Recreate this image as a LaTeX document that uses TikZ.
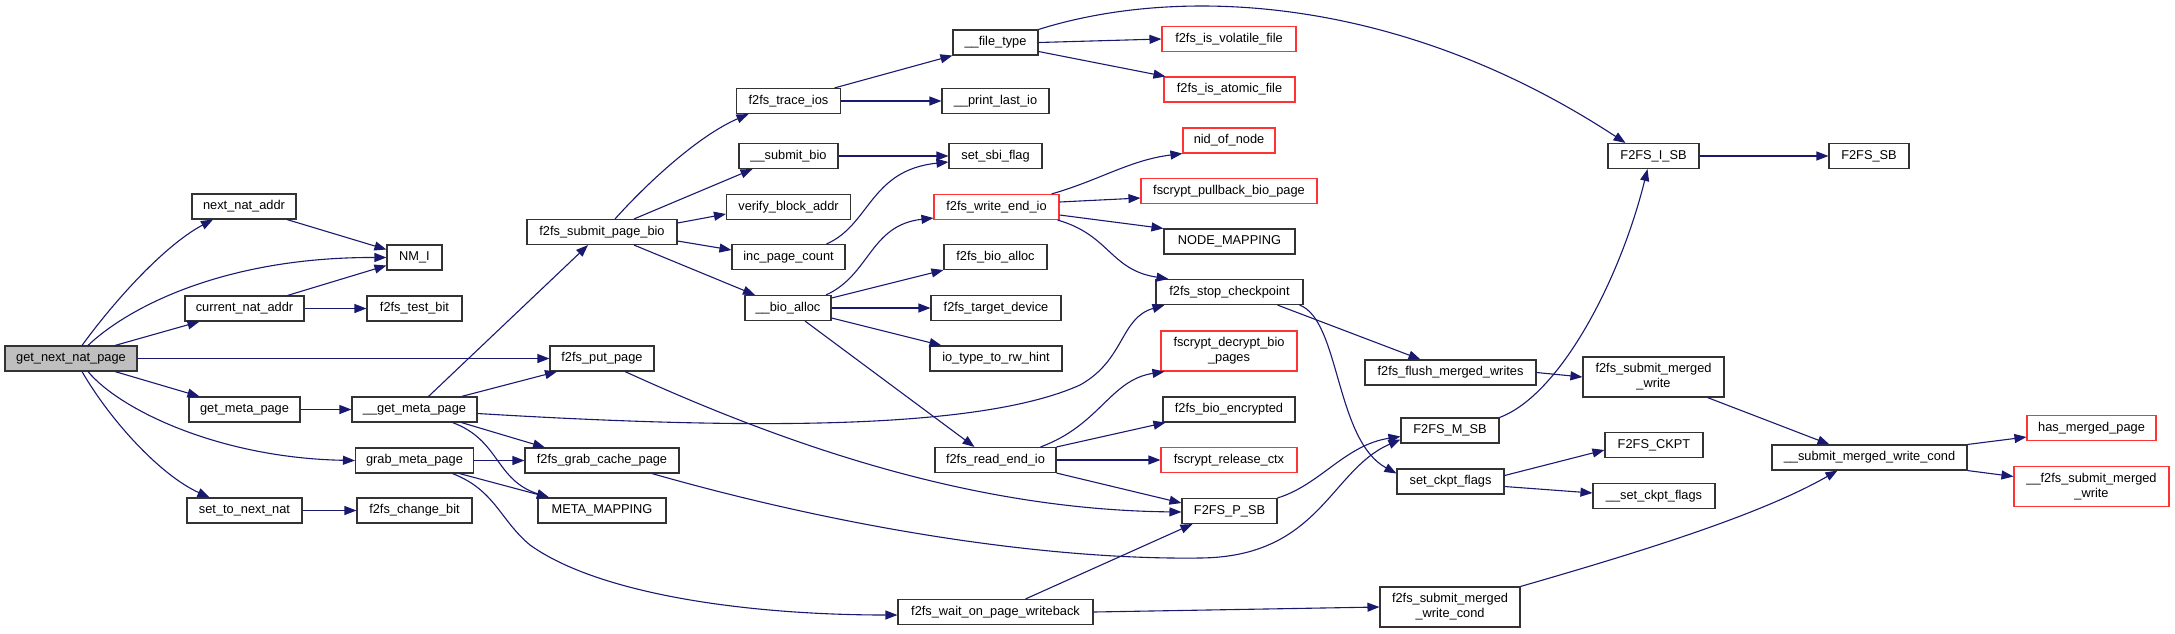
\documentclass[tikz,border=0pt]{standalone}
\usepackage{fontspec}
\setmainfont{Liberation Sans}
\usetikzlibrary{arrows.meta}
\definecolor{edgec}{HTML}{191970}
\definecolor{rootfill}{HTML}{BFBFBF}
\definecolor{nodeborder}{HTML}{333333}
\definecolor{redborder}{HTML}{FF3333}
\newcommand{\nfont}{\fontsize{12.8}{15}\selectfont}
\tikzset{
  fn/.style={draw=nodeborder, line width=1.1pt, rectangle, inner sep=0pt,
    minimum height=25pt, text height=9.4pt, text depth=2.8pt, font=\nfont, fill=white},
  fnr/.style={fn, draw=redborder},
  fntwo/.style={draw=nodeborder, line width=1.1pt, rectangle, inner sep=0pt,
    minimum height=40pt, align=center, font=\nfont, fill=white},
  fntwor/.style={fntwo, draw=redborder},
  e/.style={draw=edgec, line width=1.1pt, -{Triangle[length=12pt,width=9pt]}}
}
\begin{document}
\begin{tikzpicture}[x=1pt,y=-1pt]
\useasboundingbox (0,0) rectangle (2175,633);
\fill[white] (0,0) rectangle (2175,633);

% rank 0
\node[fn, fill=rootfill, minimum width=132pt] (gnnp) at (71,358.5) {get\_next\_nat\_page};
% rank 1
\node[fn, minimum width=104pt] (nna) at (244,206.5) {next\_nat\_addr};
\node[fn, minimum width=119pt] (cna) at (244.5,308.5) {current\_nat\_addr};
\node[fn, minimum width=111pt] (gmp) at (244.5,409.5) {get\_meta\_page};
\node[fn, minimum width=115pt] (stnn) at (244.5,510.5) {set\_to\_next\_nat};
% rank 2
\node[fn, minimum width=55pt] (nmi) at (414.5,257.5) {NM\_I};
\node[fn, minimum width=95pt] (ftb) at (414.5,308.5) {f2fs\_test\_bit};
\node[fn, minimum width=125pt] (ugmp) at (414.5,409.5) {\_\_get\_meta\_page};
\node[fn, minimum width=118pt] (grmp) at (414.5,460.5) {grab\_meta\_page};
\node[fn, minimum width=115pt] (fcb) at (414.5,510.5) {f2fs\_change\_bit};
% rank 3
\node[fn, minimum width=150pt] (fspb) at (602,232) {f2fs\_submit\_page\_bio};
\node[fn, minimum width=104pt] (fpp) at (602,358.5) {f2fs\_put\_page};
\node[fn, minimum width=154pt] (fgcp) at (602,460.5) {f2fs\_grab\_cache\_page};
\node[fn, minimum width=128pt] (mm) at (602,510.5) {META\_MAPPING};
% rank 4
\node[fn, minimum width=104pt] (fti) at (788.5,101) {f2fs\_trace\_ios};
\node[fn, minimum width=99pt] (usb) at (788.5,156) {\_\_submit\_bio};
\node[fn, minimum width=124pt] (vba) at (788.5,207) {verify\_block\_addr};
\node[fn, minimum width=113pt] (ipc) at (788.5,257) {inc\_page\_count};
\node[fn, minimum width=86pt] (uba) at (788,308) {\_\_bio\_alloc};
% rank 5
\node[fn, minimum width=85pt] (uft) at (995.5,42.5) {\_\_file\_type};
\node[fn, minimum width=107pt] (upli) at (995.5,101) {\_\_print\_last\_io};
\node[fn, minimum width=93pt] (ssf) at (995.5,156) {set\_sbi\_flag};
\node[fnr, minimum width=125pt] (fweio) at (996.5,207) {f2fs\_write\_end\_io};
\node[fn, minimum width=103pt] (fba) at (995.5,257) {f2fs\_bio\_alloc};
\node[fn, minimum width=130pt] (ftd) at (996,308) {f2fs\_target\_device};
\node[fn, minimum width=132pt] (itrh) at (996,358.5) {io\_type\_to\_rw\_hint};
\node[fn, minimum width=121pt] (freio) at (995.5,460) {f2fs\_read\_end\_io};
\node[fn, minimum width=195pt] (fwopw) at (995.5,612) {f2fs\_wait\_on\_page\_writeback};
% rank 6
\node[fnr, minimum width=134pt] (fivf) at (1229,39) {f2fs\_is\_volatile\_file};
\node[fnr, minimum width=131pt] (fiaf) at (1229.5,89.5) {f2fs\_is\_atomic\_file};
\node[fnr, minimum width=92pt] (non) at (1229,140.5) {nid\_of\_node};
\node[fnr, minimum width=176pt] (fpbp) at (1229,191) {fscrypt\_pullback\_bio\_page};
\node[fn, minimum width=131pt] (nm) at (1229.5,241.5) {NODE\_MAPPING};
\node[fn, minimum width=147pt] (fsc) at (1229.5,292) {f2fs\_stop\_checkpoint};
\node[fntwor, minimum width=136pt] (fdbp) at (1229,351) {fscrypt\_decrypt\_bio\\\_pages};
\node[fn, minimum width=132pt] (fbe) at (1229,409.5) {f2fs\_bio\_encrypted};
\node[fnr, minimum width=136pt] (frc) at (1229,460) {fscrypt\_release\_ctx};
\node[fn, minimum width=95pt] (fpsb) at (1229.5,511) {F2FS\_P\_SB};
% rank 7
\node[fn, minimum width=171pt] (ffmw) at (1450.5,372.5) {f2fs\_flush\_merged\_writes};
\node[fn, minimum width=98pt] (fmsb) at (1450,430.5) {F2FS\_M\_SB};
\node[fn, minimum width=107pt] (sckf) at (1450.5,481.5) {set\_ckpt\_flags};
\node[fntwo, minimum width=140pt] (fsmwc) at (1450,607) {f2fs\_submit\_merged\\\_write\_cond};
% rank 8
\node[fn, minimum width=91pt] (fisb) at (1653.5,156) {F2FS\_I\_SB};
\node[fntwo, minimum width=141pt] (fsmw) at (1653.5,377) {f2fs\_submit\_merged\\\_write};
\node[fn, minimum width=98pt] (fckpt) at (1654,445) {F2FS\_CKPT};
\node[fn, minimum width=122pt] (uscf) at (1654,496) {\_\_set\_ckpt\_flags};
% rank 9
\node[fn, minimum width=80pt] (fsb) at (1869,156) {F2FS\_SB};
\node[fn, minimum width=195pt] (usmwc) at (1869.5,457.5) {\_\_submit\_merged\_write\_cond};
% rank 10
\node[fnr, minimum width=129pt] (hmp) at (2091.5,428) {has\_merged\_page};
\node[fntwor, minimum width=155pt] (ufsmw) at (2091.5,486.5) {\_\_f2fs\_submit\_merged\\\_write};

% edges
\draw[e] ([xshift=11pt]gnnp.north) .. controls (115,300) and (165,245) .. ([xshift=-31pt]nna.south);
\draw[e] ([xshift=17pt]gnnp.north) .. controls (125,310) and (220,257) .. (nmi.west);
\draw[e] ([xshift=44pt]gnnp.north) -- ([xshift=-45pt]cna.south);
\draw[e] (gnnp.east) -- (fpp.west);
\draw[e] ([xshift=44pt]gnnp.south) -- ([xshift=-45pt]gmp.north);
\draw[e] ([xshift=17pt]gnnp.south) .. controls (120,410) and (220,458) .. (grmp.west);
\draw[e] ([xshift=11pt]gnnp.south) .. controls (110,420) and (160,475) .. ([xshift=-35pt]stnn.north);
\draw[e] ([xshift=43pt]nna.south) -- ([yshift=8pt]nmi.west);
\draw[e] ([xshift=43pt]cna.north) -- ([yshift=-8pt]nmi.west);
\draw[e] (cna.east) -- (ftb.west);
\draw[e] (gmp.east) -- (ugmp.west);
\draw[e] ([xshift=14pt]ugmp.north) -- ([xshift=-14pt]fspb.south);
\draw[e] ([xshift=47pt]ugmp.north) -- ([xshift=-45pt]fpp.south);
\draw[e] ([yshift=-4pt]ugmp.east) .. controls (750,430) and (980,430) .. (1080,385)
   .. controls (1125,360) and (1120,318) .. ([xshift=-65pt]fsc.south);
\draw[e] ([xshift=47pt]ugmp.south) -- ([xshift=-57pt]fgcp.north);
\draw[e] ([xshift=38pt]ugmp.south) .. controls (500,440) and (495,480) .. ([xshift=-53pt]mm.north);
\draw[e] (grmp.east) -- (fgcp.west);
\draw[e] ([xshift=45pt]grmp.south) -- ([xshift=-53pt]mm.north);
\draw[e] ([xshift=38pt]grmp.south) .. controls (495,490) and (500,520) .. (530,545)
   .. controls (600,595) and (750,615) .. ([yshift=-3pt]fwopw.west);
\draw[e] (stnn.east) -- (fcb.west);
\draw[e] ([xshift=13pt]fspb.north) .. controls (650,180) and (700,135) .. ([xshift=-40pt]fti.south);
\draw[e] ([xshift=32pt]fspb.north) -- ([xshift=-36pt]usb.south);
\draw[e] ([yshift=9pt]fspb.east) -- ([yshift=-7pt]vba.west);
\draw[e] ([yshift=-9pt]fspb.east) -- ([yshift=7pt]ipc.west);
\draw[e] ([xshift=32pt]fspb.south) -- ([xshift=-33pt]uba.north);
\draw[e] ([xshift=46pt]fti.north) -- (uft.south west);
\draw[e] (fti.east) -- (upli.west);
\draw[e] (uft.north east) .. controls (1180,-15) and (1400,-5) .. ([xshift=-28pt]fisb.north);
\draw[e] (uft.east) -- (fivf.west);
\draw[e] ([yshift=-9pt]uft.east) -- ([xshift=2pt]fiaf.north west);
\draw[e] (usb.east) -- (ssf.west);
\draw[e] ([xshift=38pt]ipc.north) .. controls (870,225) and (870,170) .. ([yshift=-6pt]ssf.west);
\draw[e] ([xshift=38pt]uba.north) .. controls (870,275) and (870,225) .. ([yshift=-11pt]fweio.west);
\draw[e] ([yshift=10pt]uba.east) -- (fba.south west);
\draw[e] (uba.east) -- (ftd.west);
\draw[e] ([yshift=-10pt]uba.east) -- ([xshift=12pt]itrh.north west);
\draw[e] ([xshift=17pt]uba.south) -- ([xshift=-21pt]freio.north);
\draw[e] ([xshift=-8pt]fweio.north east) .. controls (1100,180) and (1130,160) .. (non.south west);
\draw[e] ([yshift=5pt]fweio.east) -- ([yshift=-7pt]fpbp.west);
\draw[e] ([yshift=-8pt]fweio.east) -- (nm.north west);
\draw[e] ([xshift=-2pt]fweio.south east) .. controls (1110,235) and (1110,270) .. ([xshift=-61pt]fsc.north);
\draw[e] ([xshift=23pt]fpp.south) .. controls (825,463) and (1000,510) .. ([yshift=-1pt]fpsb.west);
\draw[e] ([xshift=50pt]fgcp.south) .. controls (850,530) and (1050,560) .. (1200,558)
   .. controls (1320,557) and (1330,470) .. ([yshift=-9pt]fmsb.west);
\draw[e] ([xshift=-16pt]freio.north east) .. controls (1100,425) and (1110,380) .. ([xshift=4pt]fdbp.south west);
\draw[e] (freio.north east) -- ([xshift=3pt]fbe.south west);
\draw[e] (freio.east) -- (frc.west);
\draw[e] (freio.south east) -- ([yshift=8pt]fpsb.west);
\draw[e] ([xshift=30pt]fwopw.north) -- ([xshift=11pt]fpsb.south west);
\draw[e] (fwopw.east) -- (fsmwc.west);
\draw[e] ([xshift=48pt]fsc.south) -- ([xshift=-30pt]ffmw.north);
\draw[e] ([xshift=-4pt]fsc.south east) .. controls (1340,320) and (1335,440) .. ([yshift=8pt]sckf.west);
\draw[e] (fpsb.north east) .. controls (1320,485) and (1345,445) .. ([yshift=-6pt]fmsb.west);
\draw[e] (fmsb.north east) .. controls (1560,395) and (1620,280) .. ([xshift=-6pt]fisb.south);
\draw[e] (ffmw.east) -- (fsmw.west);
\draw[e] ([yshift=6pt]sckf.east) -- ([yshift=-5pt]fckpt.west);
\draw[e] ([yshift=-5pt]sckf.east) -- ([yshift=3pt]uscf.west);
\draw[e] (fisb.east) -- (fsb.west);
\draw[e] ([xshift=54pt]fsmw.south) -- ([xshift=-40pt]usmwc.north);
\draw[e] (fsmwc.north east) .. controls (1640,552) and (1760,515) .. ([xshift=-32pt]usmwc.south);
\draw[e] (usmwc.north east) -- ([yshift=-9pt]hmp.west);
\draw[e] (usmwc.south east) -- ([yshift=10pt]ufsmw.west);
\end{tikzpicture}
\end{document}
